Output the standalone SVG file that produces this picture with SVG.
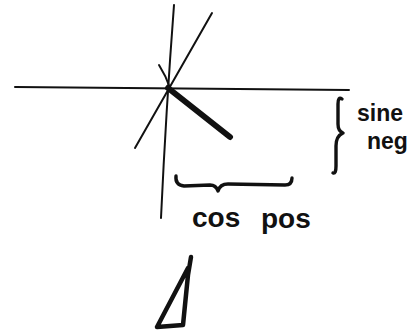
<svg xmlns="http://www.w3.org/2000/svg" width="419" height="334" viewBox="0 0 419 334">
<style>
.thin{fill:none;stroke:#111;stroke-width:2;stroke-linecap:round;stroke-linejoin:round}
.med{fill:none;stroke:#111;stroke-width:3.4;stroke-linecap:round;stroke-linejoin:round}
.hand{font-family:"Liberation Sans","DejaVu Sans",sans-serif;font-weight:bold;fill:#111}
</style>
<rect width="419" height="334" fill="#fff"/>
<g id="axes">
<path class="thin" d="M15,87 L349,90"/>
<path class="thin" d="M174,5 Q166,110 161,218"/>
<path class="thin" d="M212,13 L135,148"/>
<path class="thin" d="M159,65 Q166,76 170,88"/>
<path fill="none" stroke="#111" stroke-width="6" stroke-linecap="round" d="M168,88 L230,137"/>
</g>
<g id="sine-brace">
<path class="med" d="M342,99 Q338,96 338,104 L338,124 Q338,131 343,133 Q336,136 336,146 L336,166 Q336,174 333,173"/>
<text class="hand" x="357" y="121" font-size="23">sine</text>
<text class="hand" x="367" y="149" font-size="23">neg</text>
</g>
<g id="cos-brace">
<path class="med" d="M176,176 Q175,185 184,186 L210,185 Q216,185 218,191 Q220,184 228,184 L285,185 Q292,185 292,178"/>
<text class="hand" x="192" y="227" font-size="28">cos</text>
<text class="hand" x="261" y="228" font-size="28">pos</text>
</g>
<g id="triangle">
<path fill="none" stroke="#111" stroke-width="4.5" stroke-linecap="round" stroke-linejoin="round" d="M191,257 L188,275 L183,325 L157,327 L188,268"/>
</g>
</svg>
